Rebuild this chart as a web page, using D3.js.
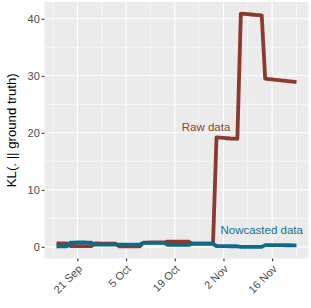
<!DOCTYPE html>
<html>
<head>
<meta charset="utf-8">
<script src="https://cdn.jsdelivr.net/npm/d3@7"></script>
<style>
  html, body { margin: 0; padding: 0; background: #ffffff; }
  svg { display: block; }
  text { font-family: "Liberation Sans", Arial, sans-serif; }
</style>
</head>
<body>
<svg id="chart" width="311" height="308"></svg>
<script>
// ---- Data (daily, 2020-09-15 .. 2020-11-23) ----
const startDate = "2020-09-15";
const rawValues = [
  0.6, 0.6, 0.6, 0.6,
  0.15, 0.15, 0.14, 0.14, 0.13, 0.13, 0.12,
  0.6, 0.6, 0.58, 0.58, 0.56, 0.56, 0.55,
  0.1, 0.1, 0.1, 0.1, 0.1, 0.1, 0.1,
  0.75, 0.75, 0.78, 0.78, 0.8, 0.8, 0.8,
  0.9, 0.9, 0.9, 0.92, 0.92, 0.92, 0.9,
  0.55, 0.55, 0.55, 0.55, 0.55, 0.55, 0.55,
  19.2, 19.15, 19.1, 19.05, 19.0, 18.98, 18.95,
  40.9, 40.85, 40.8, 40.75, 40.7, 40.65, 40.6,
  29.5, 29.43, 29.37, 29.3, 29.23, 29.17, 29.1, 29.03, 28.97, 28.9
];
const nowcastValues = [
  0.1, 0.1, 0.1, 0.1,
  0.75, 0.75, 0.76, 0.76, 0.76, 0.75, 0.75,
  0.4, 0.4, 0.4, 0.4, 0.4, 0.4, 0.4,
  0.4, 0.4, 0.4, 0.4, 0.4, 0.4, 0.4,
  0.7, 0.7, 0.7, 0.7, 0.7, 0.7, 0.7,
  0.35, 0.35, 0.35, 0.35, 0.35, 0.35, 0.35,
  0.55, 0.55, 0.55, 0.55, 0.55, 0.55, 0.55,
  0.12, 0.12, 0.12, 0.12, 0.1, 0.1, 0.1,
  0.0, 0.0, 0.0, 0.0, 0.0, 0.0, 0.0,
  0.3, 0.3, 0.3, 0.3, 0.3, 0.3, 0.28, 0.28, 0.27, 0.27
];
const xTickDates = ["2020-09-21", "2020-10-05", "2020-10-19", "2020-11-02", "2020-11-16"];
const xTickLabels = ["21 Sep", "5 Oct", "19 Oct", "2 Nov", "16 Nov"];
const xMinorDates = ["2020-09-14", "2020-09-28", "2020-10-12", "2020-10-26", "2020-11-09", "2020-11-23"];
const yTicks = [0, 10, 20, 30, 40];
const yMinorTicks = [5, 15, 25, 35];
const seriesNames = ["Raw data", "Nowcasted data"];
const labelPositions = [ { date: "2020-10-28", value: 21 }, { date: "2020-11-13", value: 3 } ];
const yTitle = "KL(. || ground truth)";

// ---- Setup ----
const parse = d3.utcParse("%Y-%m-%d");
const day0 = parse(startDate);
const dates = rawValues.map((_, i) => d3.utcDay.offset(day0, i));

const W = 311, H = 308;
const panel = { left: 44.5, right: 308.5, top: 2, bottom: 258.5 };

const xExt = d3.extent(dates);
const xPad = (xExt[1] - xExt[0]) * 0.05;
const x = d3.scaleUtc()
  .domain([new Date(+xExt[0] - xPad), new Date(+xExt[1] + xPad)])
  .range([panel.left, panel.right]);

const allVals = rawValues.concat(nowcastValues);
const yMin = d3.min(allVals), yMax = d3.max(allVals);
const yPad = (yMax - yMin) * 0.05;
const y = d3.scaleLinear()
  .domain([yMin - yPad, yMax + yPad])
  .range([panel.bottom, panel.top]);

const svg = d3.select("#chart");

// panel background
svg.append("rect")
  .attr("x", panel.left).attr("y", panel.top)
  .attr("width", panel.right - panel.left)
  .attr("height", panel.bottom - panel.top)
  .attr("fill", "#EBEBEB");

const grid = svg.append("g");
// minor grid
grid.selectAll(".ymin").data(yMinorTicks).join("line")
  .attr("x1", panel.left).attr("x2", panel.right)
  .attr("y1", d => y(d)).attr("y2", d => y(d))
  .attr("stroke", "#ffffff").attr("stroke-width", 0.55);
grid.selectAll(".xmin").data(xMinorDates.map(parse)).join("line")
  .attr("y1", panel.top).attr("y2", panel.bottom)
  .attr("x1", d => x(d)).attr("x2", d => x(d))
  .attr("stroke", "#ffffff").attr("stroke-width", 0.55);
// major grid
grid.selectAll(".ymaj").data(yTicks).join("line")
  .attr("x1", panel.left).attr("x2", panel.right)
  .attr("y1", d => y(d)).attr("y2", d => y(d))
  .attr("stroke", "#ffffff").attr("stroke-width", 1.1);
grid.selectAll(".xmaj").data(xTickDates.map(parse)).join("line")
  .attr("y1", panel.top).attr("y2", panel.bottom)
  .attr("x1", d => x(d)).attr("x2", d => x(d))
  .attr("stroke", "#ffffff").attr("stroke-width", 1.1);

// axes
const yAxis = d3.axisLeft(y).tickValues(yTicks).tickSize(2.7).tickPadding(2);
const gy = svg.append("g").attr("transform", `translate(${panel.left},0)`).call(yAxis);
gy.select(".domain").remove();
gy.selectAll(".tick line").attr("stroke", "#333333").attr("stroke-width", 1.1);
gy.selectAll(".tick text").attr("fill", "#4D4D4D").attr("font-size", "11px");

const xAxis = d3.axisBottom(x).tickValues(xTickDates.map(parse)).tickSize(2.7)
  .tickFormat((d, i) => xTickLabels[i]);
const gx = svg.append("g").attr("transform", `translate(0,${panel.bottom})`).call(xAxis);
gx.select(".domain").remove();
gx.selectAll(".tick line").attr("stroke", "#333333").attr("stroke-width", 1.1);
gx.selectAll(".tick text")
  .attr("fill", "#4D4D4D").attr("font-size", "11px")
  .attr("text-anchor", "end")
  .attr("dy", null).attr("y", null)
  .attr("transform", "translate(5,11) rotate(-45)");

// y title
svg.append("text")
  .attr("transform", `translate(16,${(panel.top + panel.bottom) / 2}) rotate(-90)`)
  .attr("text-anchor", "middle")
  .attr("font-size", "13.2px")
  .attr("fill", "#000000")
  .text(yTitle);

// lines
const colors = ["#8B3A2F", "#0F6A8A"];
const textColors = ["#8E4535", "#17708F"];
const line = d3.line().x((d, i) => x(dates[i])).y(d => y(d));
const series = [rawValues, nowcastValues];
svg.append("g").selectAll("path").data(series).join("path")
  .attr("d", d => line(d))
  .attr("fill", "none")
  .attr("stroke", (d, i) => colors[i])
  .attr("stroke-width", 3.8)
  .attr("stroke-linejoin", "round")
  .attr("stroke-linecap", "butt");

// labels
svg.append("g").selectAll("text").data(seriesNames).join("text")
  .attr("x", (d, i) => x(parse(labelPositions[i].date)))
  .attr("y", (d, i) => y(labelPositions[i].value))
  .attr("dy", "0.35em")
  .attr("text-anchor", "middle")
  .attr("font-size", "11.5px")
  .attr("fill", (d, i) => textColors[i])
  .text(d => d);
</script>
</body>
</html>
